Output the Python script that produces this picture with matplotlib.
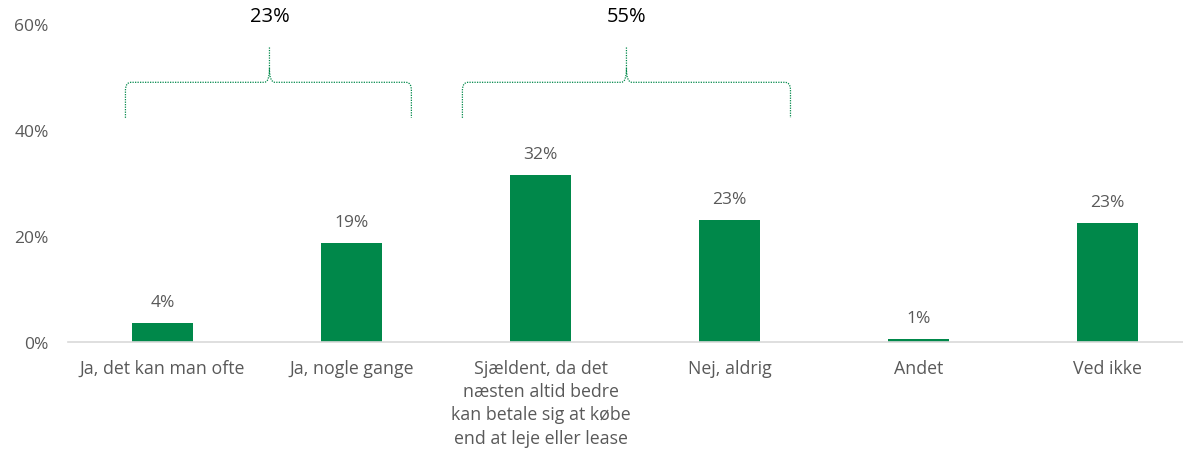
import numpy as np
import matplotlib.pyplot as plt
from matplotlib.path import Path
from matplotlib.patches import PathPatch

categories = ["Ja, det kan man ofte", "Ja, nogle gange",
              "Sjældent, da det\nnæsten altid bedre\nkan betale sig at købe\nend at leje eller lease",
              "Nej, aldrig", "Andet", "Ved ikke"]
values = [3.6, 18.7, 31.5, 23.0, 0.6, 22.5]
labels = ["4%", "19%", "32%", "23%", "1%", "23%"]

# grupper med klammer: (venstre, højre, spids, tekst)
groups = [(-0.196, 1.317, 0.566, "23%"), (1.587, 3.323, 2.455, "55%")]

green = "#00884A"
grey = "#595959"

plt.rcParams['font.family'] = ['Open Sans', 'DejaVu Sans']

fig = plt.figure(figsize=(11.83, 4.56), dpi=100)
ax = fig.add_axes([68/1183, 1 - 343/456, (1183-68)/1183, 318/456])

x = np.arange(len(categories))
ax.bar(x, values, width=0.32, color=green, zorder=2)
for xi, v, l in zip(x, values, labels):
    ax.text(xi, v + 2.4, l, ha="center", va="bottom", fontsize=12.5, color=grey)

ax.set_xlim(-0.5, 5.40)
ax.set_ylim(0, 60)
ax.set_yticks([0, 20, 40, 60])
ax.set_yticklabels(["0%", "20%", "40%", "60%"])
ax.set_xticks(x)
ax.set_xticklabels(categories, fontsize=12.8, color=grey, linespacing=1.38)
ax.tick_params(axis="y", length=0, labelsize=12.5, labelcolor=grey, pad=14)
ax.tick_params(axis="x", length=0, pad=12)
for s in ["top", "right", "left"]:
    ax.spines[s].set_visible(False)
ax.spines["bottom"].set_color("#d9d9d9")
ax.spines["bottom"].set_linewidth(1.2)


def brace(x0, x1, xt, ybot=42.3, yh=49.0, ytip=55.6):
    rx, ry = 0.03, 1.5
    tx, ty = 0.028, 2.6
    verts = [(x0, ybot), (x0, yh - ry), (x0, yh), (x0 + rx, yh),
             (xt - tx, yh), (xt, yh), (xt, yh + ty), (xt, ytip),
             (xt, yh + ty), (xt, yh), (xt + tx, yh),
             (x1 - rx, yh), (x1, yh), (x1, yh - ry), (x1, ybot)]
    codes = [Path.MOVETO, Path.LINETO, Path.CURVE3, Path.CURVE3,
             Path.LINETO, Path.CURVE3, Path.CURVE3, Path.LINETO,
             Path.MOVETO, Path.CURVE3, Path.CURVE3,
             Path.LINETO, Path.CURVE3, Path.CURVE3, Path.LINETO]
    p = PathPatch(Path(verts, codes), fill=False, edgecolor=green, lw=0.9,
                  linestyle=(0, (1, 1)), clip_on=False)
    ax.add_patch(p)


for x0, x1, xt, t in groups:
    brace(x0, x1, xt)
    ax.text(xt, 61.5, t, ha="center", va="center", fontsize=14.5, color="black")

fig.savefig("out.png", dpi=100)
